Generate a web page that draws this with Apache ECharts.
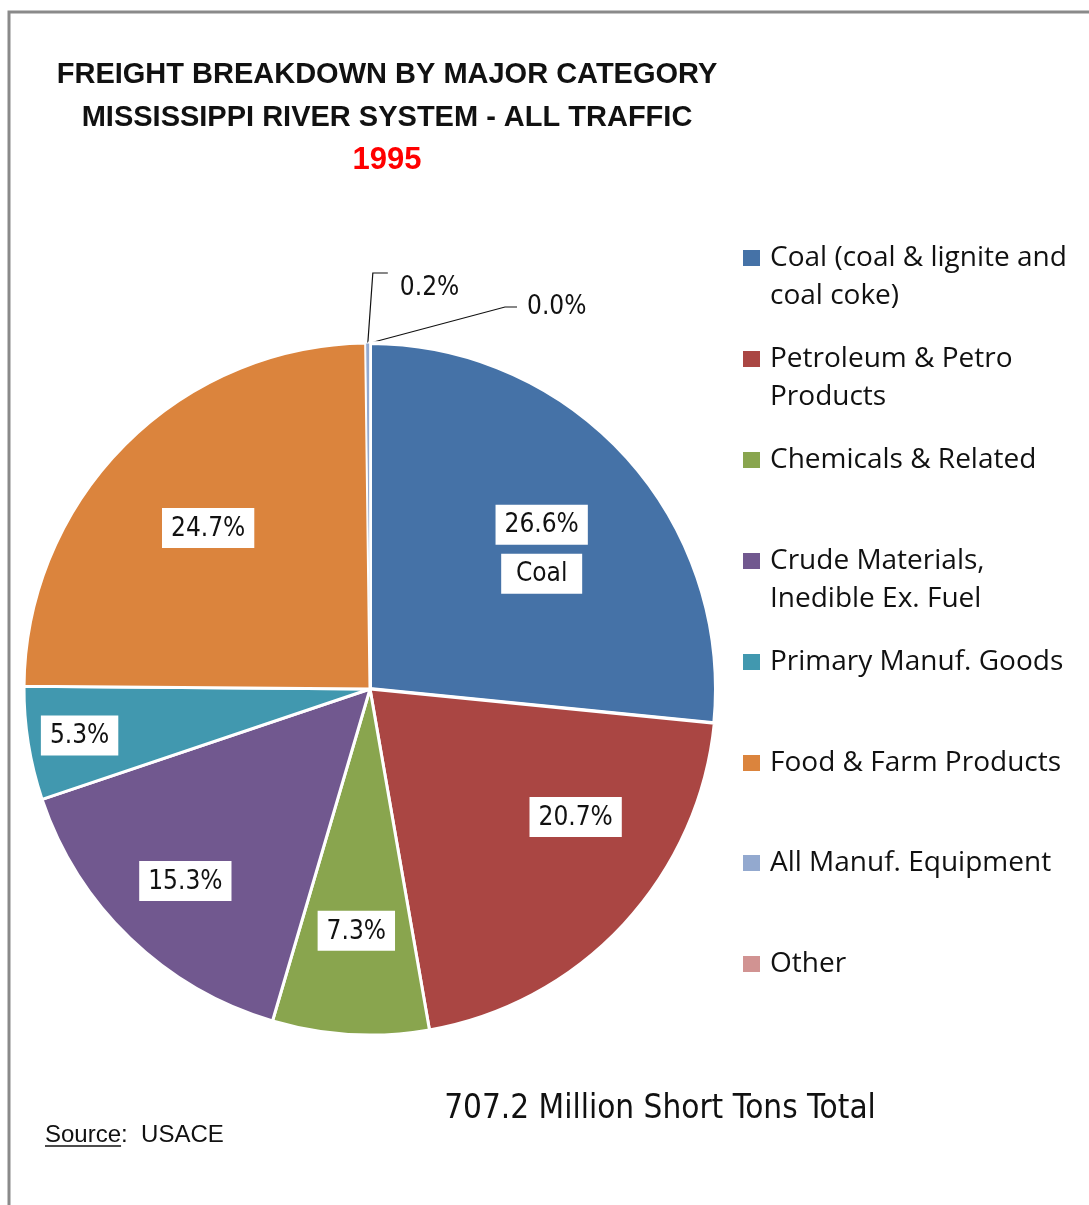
<!DOCTYPE html>
<html>
<head>
<meta charset="utf-8">
<script src="https://cdn.jsdelivr.net/npm/echarts@6/dist/echarts.min.js"></script>
<style>
html,body{margin:0;padding:0;background:#fff;}
#chart{width:1089px;height:1205px;}
</style>
</head>
<body>
<div id="chart"></div>
<script>
// ---- data ----
const categories = [
  'Coal (coal & lignite and coal coke)',
  'Petroleum & Petro Products',
  'Chemicals & Related',
  'Crude Materials, Inedible Ex. Fuel',
  'Primary Manuf. Goods',
  'Food & Farm Products',
  'All Manuf. Equipment',
  'Other'
];
const legendLabels = [
  'Coal (coal & lignite and\ncoal coke)',
  'Petroleum & Petro\nProducts',
  'Chemicals & Related',
  'Crude Materials,\nInedible Ex. Fuel',
  'Primary Manuf. Goods',
  'Food & Farm Products',
  'All Manuf. Equipment',
  'Other'
];
const shares = [26.6, 20.7, 7.3, 15.3, 5.3, 24.7, 0.2, 0.0];
const sliceTags = ['Coal', '', '', '', '', '', '', ''];
const titleLines = ['FREIGHT BREAKDOWN BY MAJOR CATEGORY', 'MISSISSIPPI RIVER SYSTEM - ALL TRAFFIC'];
const yearText = '1995';
const totalText = '707.2 Million Short Tons Total';
const sourceLabel = 'Source';
const sourceValue = 'USACE';

// ---- style ----
const colors = ['#4572A7', '#AA4643', '#89A54E', '#71588F', '#4198AF', '#DB843D', '#93A9CF', '#D19392'];
const CX = 370, CY = 689, R = 346;
const sliceBorder = [4, 3, 3, 3, 3, 3, 1, 1];
const insideRadiusFactor = [0.64, 0.70, 0.70, 0.77, 0.85, 0.66];
const insideAngleShift = [3, -11, 0, 0, 0, 0];
const outsidePlacement = {
  6: {label: [32, -55], elbow: [5, -70], end: [20, -70]},
  7: {label: [157, -36], elbow: [135, -36], end: [147, -36]}
};
const legendCenters = [258, 359, 460, 561, 662, 763, 863, 964];
const NARROW = "'Liberation Sans Narrow','DejaVu Sans Condensed',sans-serif";
const LEGENDFONT = "'Open Sans',sans-serif";

const total = shares.reduce((a, b) => a + b, 0);
function midAngle(i) {
  let before = 0;
  for (let k = 0; k < i; k++) before += shares[k];
  return (before + shares[i] / 2) / total * Math.PI * 2;
}

const chart = echarts.init(document.getElementById('chart'), null, {renderer: 'canvas', width: 1089, height: 1205});

const L = 38;
const legends = categories.map((name, i) => {
  const twoLine = legendLabels[i].indexOf('\n') >= 0;
  return {
    data: [name],
    orient: 'vertical',
    left: 743,
    top: twoLine ? legendCenters[i] - 1.5 * L : legendCenters[i] - L / 2,
    padding: 0,
    itemWidth: 17,
    itemHeight: 16,
    icon: 'rect',
    selectedMode: false,
    itemStyle: {borderWidth: 0},
    // two-line entries get an empty leading line so the first text line sits beside the swatch
    formatter: () => twoLine ? ' \n' + legendLabels[i] : legendLabels[i],
    textStyle: {
      fontFamily: LEGENDFONT, fontSize: 28, color: '#111', lineHeight: L,
      padding: [0, 0, 0, 5]
    }
  };
});

// measure "Source" width for the underline
const mctx = document.createElement('canvas').getContext('2d');
mctx.font = "24px 'Liberation Sans', Arial, sans-serif";
const srcW = mctx.measureText(sourceLabel).width;

const labelBase = {fontFamily: NARROW, fontSize: 26, color: '#111'};

const option = {
  backgroundColor: '#fff',
  animation: false,
  color: colors,
  legend: legends,
  graphic: [
    {type: 'polyline', shape: {points: [[9, 1205], [9, 12], [1089, 12]]}, style: {stroke: '#8a8a8a', lineWidth: 3, fill: null}},
    {type: 'text', x: 387, y: 75, style: {text: titleLines[0], align: 'center', verticalAlign: 'middle', font: "bold 29px 'Liberation Sans', Arial, sans-serif", fill: '#111'}},
    {type: 'text', x: 387, y: 118, style: {text: titleLines[1], align: 'center', verticalAlign: 'middle', font: "bold 29px 'Liberation Sans', Arial, sans-serif", fill: '#111'}},
    {type: 'text', x: 387, y: 160, style: {text: yearText, align: 'center', verticalAlign: 'middle', font: "bold 31px 'Liberation Sans', Arial, sans-serif", fill: '#ff0000'}},
    {type: 'text', x: 660, y: 1109, style: {text: totalText, align: 'center', verticalAlign: 'middle', font: "33px " + NARROW, fill: '#111'}},
    {type: 'text', x: 45, y: 1135, style: {text: sourceLabel + ':  ' + sourceValue, align: 'left', verticalAlign: 'middle', font: "24px 'Liberation Sans', Arial, sans-serif", fill: '#111'}},
    {type: 'line', shape: {x1: 45, y1: 1146, x2: 45 + srcW, y2: 1146}, style: {stroke: '#111', lineWidth: 1.5}}
  ],
  series: [{
    type: 'pie',
    center: [CX, CY],
    radius: R,
    startAngle: 90,
    clockwise: true,
    avoidLabelOverlap: false,
    emphasis: {disabled: true},
    itemStyle: {borderColor: '#fff', borderWidth: 3},
    label: {
      show: true,
      position: 'inside',
      formatter: (p) => {
        const pct = '{p|' + p.value.toFixed(1) + '%}';
        return sliceTags[p.dataIndex] ? pct + '\n{n|' + sliceTags[p.dataIndex] + '}' : pct;
      },
      rich: {
        p: Object.assign({}, labelBase, {backgroundColor: '#fff', padding: [8, 9, 6, 9], lineHeight: 49}),
        n: Object.assign({}, labelBase, {backgroundColor: '#fff', padding: [8, 9, 6, 9], width: 63, align: 'center', lineHeight: 49}),
        o: Object.assign({}, labelBase)
      }
    },
    labelLine: {show: false},
    labelLayout: (params) => {
      const i = params.dataIndex;
      const a = midAngle(i);
      if (outsidePlacement[i]) {
        const ex = CX + R * Math.sin(a), ey = CY - R * Math.cos(a);
        const op = outsidePlacement[i];
        return {
          x: ex + op.label[0], y: ey + op.label[1], align: 'left', verticalAlign: 'middle',
          labelLinePoints: [[ex, ey], [ex + op.elbow[0], ey + op.elbow[1]], [ex + op.end[0], ey + op.end[1]]]
        };
      }
      const aa = a + insideAngleShift[i] * Math.PI / 180;
      const r = R * insideRadiusFactor[i];
      return {x: CX + r * Math.sin(aa), y: CY - r * Math.cos(aa), align: 'center', verticalAlign: 'middle'};
    },
    data: categories.map((name, i) => {
      const d = {name: name, value: shares[i], itemStyle: {borderWidth: sliceBorder[i]}};
      if (outsidePlacement[i]) {
        d.label = {position: 'outside', formatter: (p) => '{o|' + p.value.toFixed(1) + '%}'};
        d.labelLine = {show: true, length: 10, length2: 10, lineStyle: {color: '#111', width: 1.2}};
      }
      return d;
    })
  }]
};
chart.setOption(option);
</script>
</body>
</html>
